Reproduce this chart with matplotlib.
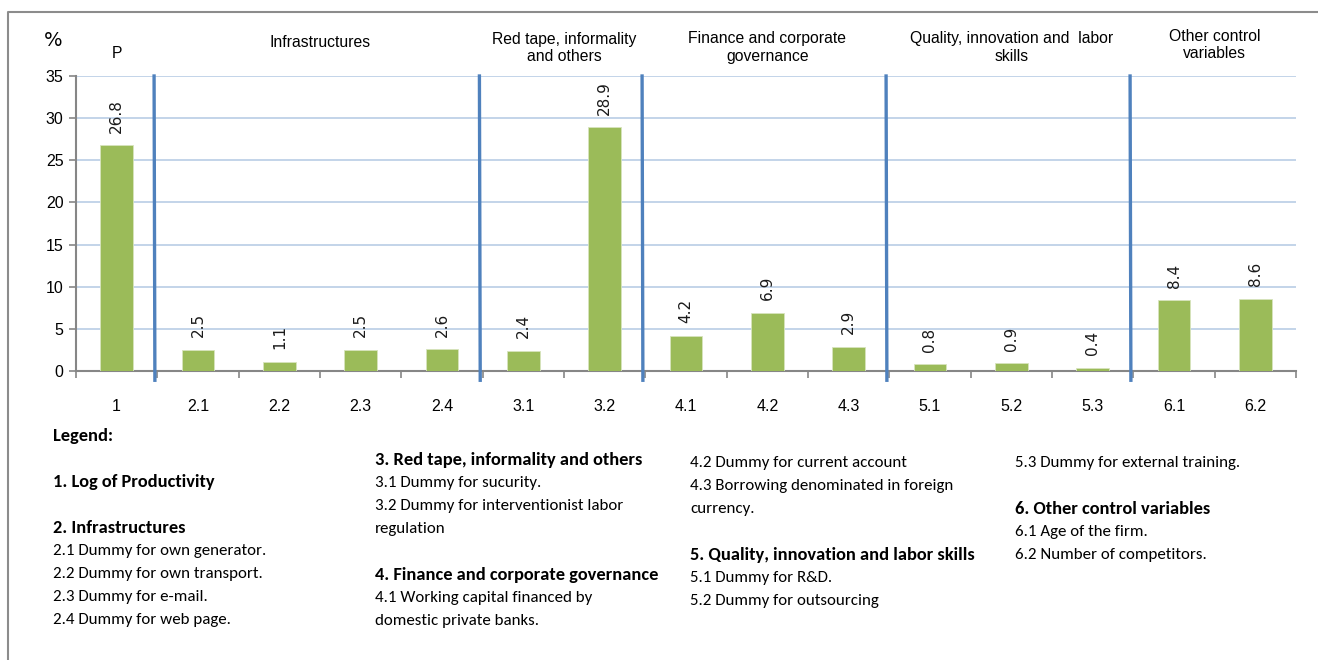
import numpy as np
import matplotlib.pyplot as plt
from matplotlib import font_manager
from matplotlib.lines import Line2D

# --- Data ---
categories = ['1', '2.1', '2.2', '2.3', '2.4', '3.1', '3.2', '4.1', '4.2', '4.3',
              '5.1', '5.2', '5.3', '6.1', '6.2']
values = [26.8, 2.5, 1.1, 2.5, 2.6, 2.4, 28.9, 4.2, 6.9, 2.9, 0.8, 0.9, 0.4, 8.4, 8.6]
value_labels = ['26.8', '2.5', '1.1', '2.5', '2.6', '2.4', '28.9', '4.2', '6.9', '2.9',
                '0.8', '0.9', '0.4', '8.4', '8.6']
group_sizes = [1, 4, 2, 3, 3, 2]
group_titles = ['P', 'Infrastructures', 'Red tape, informality\nand others',
                'Finance and corporate\ngovernance', 'Quality, innovation and  labor\nskills',
                'Other control\nvariables']
group_title_y = [37.7, 39.0, 38.3, 38.4, 38.4, 38.7]
y_ticks = [0, 5, 10, 15, 20, 25, 30, 35]

# legend columns: (text, bold)
legend_cols = [
    [('Legend:', True), ('', False), ('1. Log of Productivity', True), ('', False),
     ('2. Infrastructures', True), ('2.1 Dummy for own generator.', False),
     ('2.2 Dummy for own transport.', False), ('2.3 Dummy for e-mail.', False),
     ('2.4 Dummy for web page.', False)],
    [('3. Red tape, informality and others', True), ('3.1 Dummy for sucurity.', False),
     ('3.2 Dummy for interventionist labor', False), ('regulation', False), ('', False),
     ('4. Finance and corporate governance', True), ('4.1 Working capital financed by', False),
     ('domestic private banks.', False)],
    [('4.2 Dummy for current account', False), ('4.3 Borrowing denominated in foreign', False),
     ('currency.', False), ('', False), ('5. Quality, innovation and labor skills', True),
     ('5.1 Dummy for R&D.', False), ('5.2 Dummy for outsourcing', False)],
    [('5.3 Dummy for external training.', False), ('', False),
     ('6. Other control variables', True), ('6.1 Age of the firm.', False),
     ('6.2 Number of competitors.', False)],
]
legend_col_x = [53, 375, 690, 1015]
legend_col_top = [436, 460, 463, 463]

# --- Fonts ---
installed = {f.name for f in font_manager.fontManager.ttflist}
narrow = 'Liberation Sans Narrow' if 'Liberation Sans Narrow' in installed else 'Liberation Sans'
body = 'Carlito' if 'Carlito' in installed else 'Lato'

bar_green = '#9BBB59'
divider_blue = '#4F81BD'
grid_blue = '#B9CDE5'
axis_gray = '#868686'

W, H = 1318, 660
fig = plt.figure(figsize=(W / 100, H / 100), dpi=100)
ax = fig.add_axes([76 / W, 1 - 371 / H, 1220 / W, 295 / H])

x = np.arange(len(categories))
ax.bar(x, values, width=0.4, color=bar_green, edgecolor='#D7E4BD', linewidth=0.6, zorder=3)

for xi, v, lab in zip(x, values, value_labels):
    ax.annotate(lab, (xi, v), xytext=(0, 9), textcoords='offset points',
                rotation=90, ha='center', va='bottom', fontsize=11,
                family='DejaVu Sans', color='#1a1a1a')

ax.set_xlim(-0.5, len(categories) - 0.5)
ax.set_ylim(0, 35)
ax.set_yticks(y_ticks)
ax.set_yticklabels([str(t) for t in y_ticks], family=narrow, fontsize=11.5)
ax.set_xticks(x)
ax.set_xticklabels(categories, family=narrow, fontsize=11.5)
ax.set_xticks(np.arange(len(categories) + 1) - 0.5, minor=True)
ax.tick_params(axis='x', which='major', length=0, pad=20)
ax.tick_params(axis='x', which='minor', length=5, width=1.2, color=axis_gray, direction='out')
ax.tick_params(axis='y', length=5, width=1.2, color=axis_gray, pad=4)
ax.yaxis.grid(True, color=grid_blue, linewidth=1.2, zorder=0)
ax.set_axisbelow(True)
for side in ['top', 'right']:
    ax.spines[side].set_visible(False)
ax.spines['left'].set_color(axis_gray)
ax.spines['bottom'].set_color(axis_gray)
ax.spines['left'].set_linewidth(1.5)
ax.spines['bottom'].set_linewidth(1.5)

# group dividers and headers
bounds = np.cumsum([0] + group_sizes) - 0.5
for b in bounds[1:-1]:
    ax.plot([b - 0.04, b - 0.03], [35, -1.1], color=divider_blue, lw=2.4,
            clip_on=False, zorder=4)
for i, title in enumerate(group_titles):
    cx = (bounds[i] + bounds[i + 1]) / 2
    ax.text(cx, group_title_y[i], title, ha='center', va='center', fontsize=11.3,
            family=narrow, linespacing=1.2)

fig.text(53 / W, 1 - 40 / H, '%', ha='center', va='center', fontsize=14, family='DejaVu Sans')

# legend text block
line_h = 23
for col, cx, top in zip(legend_cols, legend_col_x, legend_col_top):
    for k, (txt, bold) in enumerate(col):
        if not txt:
            continue
        fig.text(cx / W, 1 - (top + k * line_h) / H, txt, ha='left', va='center',
                 fontsize=13.2 if bold else 12.2, family=body,
                 fontweight='bold' if bold else 'normal')

# outer frame
fig.add_artist(Line2D([8 / W, 8 / W, 1], [0, 1 - 12 / H, 1 - 12 / H],
                      transform=fig.transFigure, color='#8C8C8C', lw=1.5))

fig.savefig('out.png', dpi=100)
